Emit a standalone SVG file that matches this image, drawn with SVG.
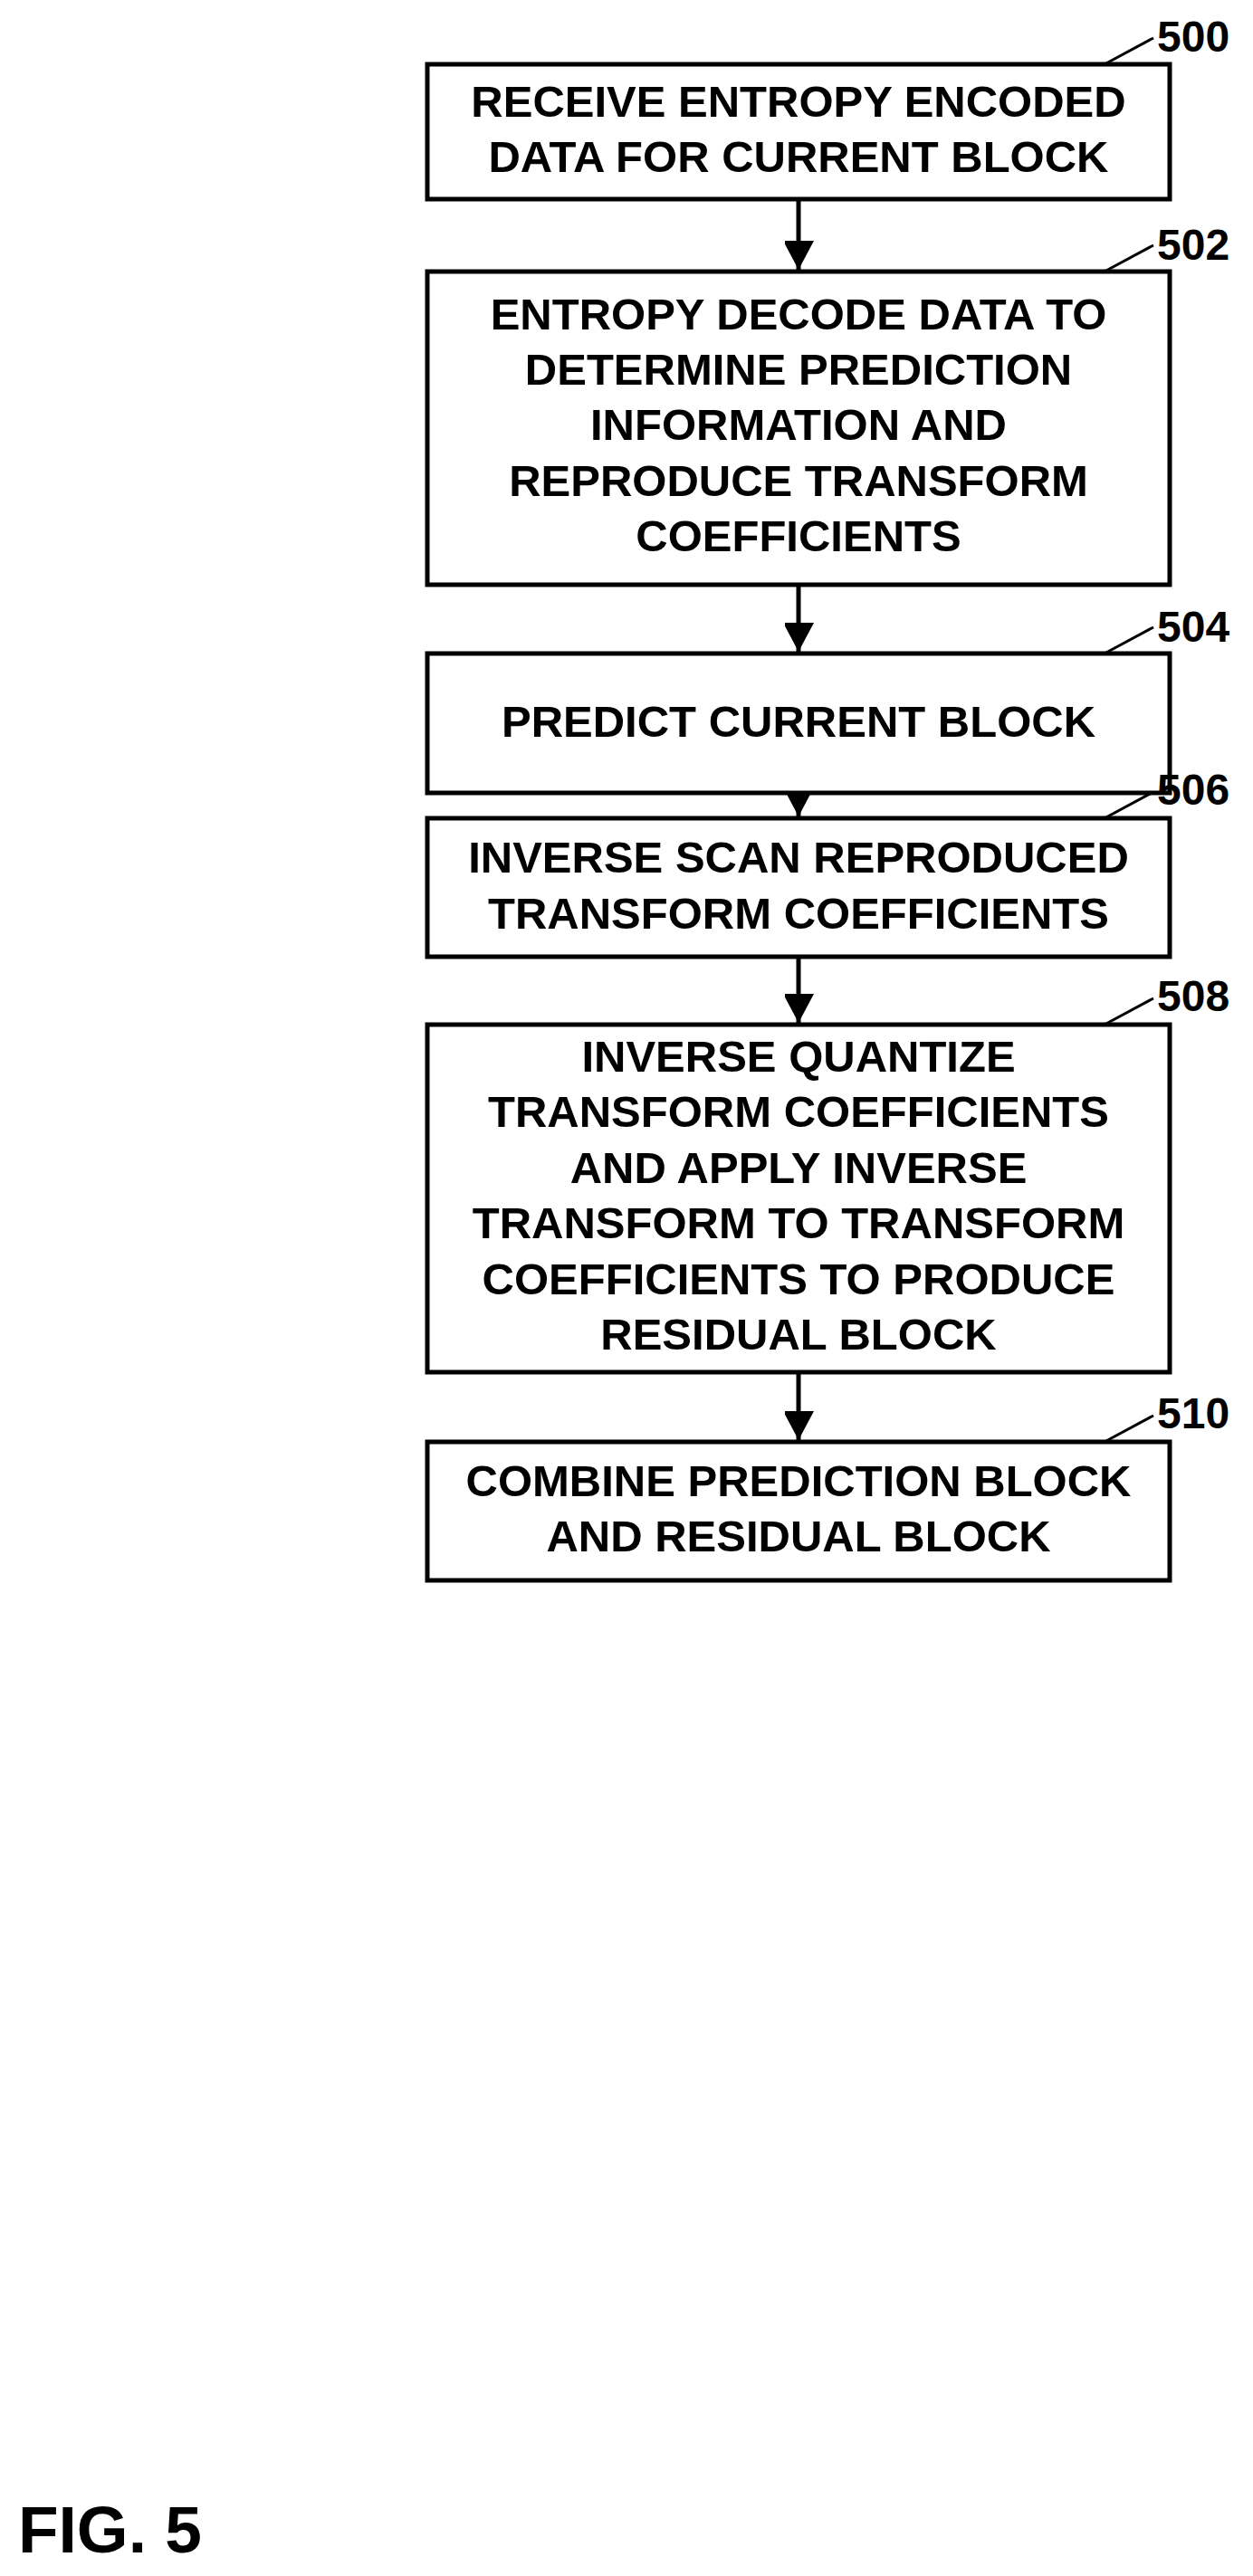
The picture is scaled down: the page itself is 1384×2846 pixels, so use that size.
<svg xmlns="http://www.w3.org/2000/svg" width="1384" height="2846" viewBox="0 0 1384 2846">
<style>
.b{fill:#fff;stroke:#000;stroke-width:5}
.t{font-family:"Liberation Sans",Arial,sans-serif;font-weight:bold;font-size:49px;text-anchor:middle;fill:#000}
.n{font-family:"Liberation Sans",Arial,sans-serif;font-weight:bold;font-size:48px;fill:#000}
.c{stroke:#000;stroke-width:5;fill:none}
.l{stroke:#000;stroke-width:3;fill:none}
</style>
<defs><marker id="a" markerUnits="userSpaceOnUse" markerWidth="34" markerHeight="32" refX="32" refY="17" orient="auto"><path d="M0,0 L32,17 L0,34 z" fill="#000"/></marker></defs>
<rect width="1384" height="2846" fill="#fff"/>
<g id="connectors">
<line class="c" x1="882" y1="220" x2="882" y2="298" marker-end="url(#a)"/>
<line class="c" x1="882" y1="646" x2="882" y2="720" marker-end="url(#a)"/>
<line class="c" x1="882" y1="876" x2="882" y2="902" marker-end="url(#a)"/>
<line class="c" x1="882" y1="1057" x2="882" y2="1130" marker-end="url(#a)"/>
<line class="c" x1="882" y1="1516" x2="882" y2="1591" marker-end="url(#a)"/>
</g>
<g id="n500"><rect class="b" x="472" y="71" width="820" height="149"/><text class="t" x="882" y="129">RECEIVE ENTROPY ENCODED</text><text class="t" x="882" y="190">DATA FOR CURRENT BLOCK</text><path class="l" d="M1220,71 L1274,42"/><text class="n" x="1278" y="57">500</text></g>
<g id="n502"><rect class="b" x="472" y="300" width="820" height="346"/><text class="t" x="882" y="364">ENTROPY DECODE DATA TO</text><text class="t" x="882" y="425">DETERMINE PREDICTION</text><text class="t" x="882" y="486">INFORMATION AND</text><text class="t" x="882" y="548">REPRODUCE TRANSFORM</text><text class="t" x="882" y="609">COEFFICIENTS</text><path class="l" d="M1220,300 L1274,271"/><text class="n" x="1278" y="287">502</text></g>
<g id="n504"><rect class="b" x="472" y="722" width="820" height="154"/><text class="t" x="882" y="814">PREDICT CURRENT BLOCK</text><path class="l" d="M1220,722 L1274,693"/><text class="n" x="1278" y="709">504</text></g>
<g id="n506"><rect class="b" x="472" y="904" width="820" height="153"/><text class="t" x="882" y="964">INVERSE SCAN REPRODUCED</text><text class="t" x="882" y="1026">TRANSFORM COEFFICIENTS</text><path class="l" d="M1220,904 L1274,875"/><text class="n" x="1278" y="889">506</text></g>
<g id="n508"><rect class="b" x="472" y="1132" width="820" height="384"/><text class="t" x="882" y="1184">INVERSE QUANTIZE</text><text class="t" x="882" y="1245">TRANSFORM COEFFICIENTS</text><text class="t" x="882" y="1307">AND APPLY INVERSE</text><text class="t" x="882" y="1368">TRANSFORM TO TRANSFORM</text><text class="t" x="882" y="1430">COEFFICIENTS TO PRODUCE</text><text class="t" x="882" y="1491">RESIDUAL BLOCK</text><path class="l" d="M1220,1132 L1274,1103"/><text class="n" x="1278" y="1117">508</text></g>
<g id="n510"><rect class="b" x="472" y="1593" width="820" height="153"/><text class="t" x="882" y="1653">COMBINE PREDICTION BLOCK</text><text class="t" x="882" y="1714">AND RESIDUAL BLOCK</text><path class="l" d="M1220,1593 L1274,1564"/><text class="n" x="1278" y="1578">510</text></g>
<text x="20" y="2820" font-family="Liberation Sans,Arial,sans-serif" font-weight="bold" font-size="73">FIG. 5</text>
</svg>
